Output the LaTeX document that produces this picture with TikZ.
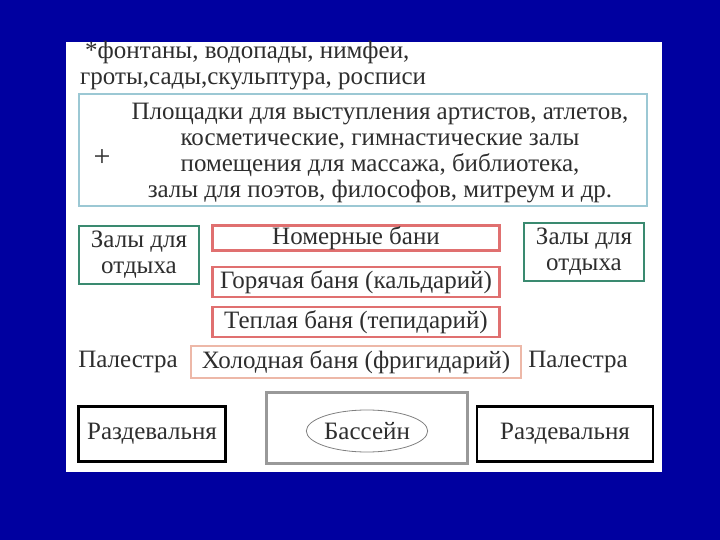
\documentclass[tikz,border=0pt]{standalone}
\usepackage{fontspec}
\setmainfont{Liberation Serif}
\usepackage{tikz}
\usepackage{xcolor}
\usetikzlibrary{shapes.geometric}
\definecolor{slideblue}{HTML}{0000A0}
\definecolor{infoblue}{HTML}{9CC8D4}
\definecolor{restgreen}{HTML}{3A8A70}
\definecolor{bathred}{HTML}{E07070}
\definecolor{coldpink}{HTML}{EDB8A8}
\definecolor{inkgray}{HTML}{2E2E2E}
\tikzset{
    plain-text/.style = {text=inkgray, font=\fontsize{25}{26}\selectfont, inner sep=0pt},
    info-box/.style = {draw=infoblue, line width=2.5pt, minimum width=568pt, minimum height=112pt},
    rest-box/.style = {draw=restgreen, line width=2.5pt, plain-text, align=center, minimum width=120pt, minimum height=58pt},
    bath-box/.style = {draw=bathred, line width=2.5pt, plain-text, minimum width=287pt, minimum height=30pt},
    cold-box/.style = {draw=coldpink, line width=2.5pt, plain-text, minimum width=330pt, minimum height=32pt},
    dress-box/.style = {draw=black, line width=2.5pt, plain-text, minimum width=150pt, minimum height=55pt},
    pool-frame/.style = {draw=gray!80, line width=2.5pt, minimum width=201pt, minimum height=71pt},
}

\begin{document}
\begin{tikzpicture}[x=1pt, y=-1pt]
\fill[slideblue] (0,0) rectangle (720,540);
\fill[white] (66,42) rectangle (662,472);
\useasboundingbox (0,0) rectangle (720,540);
\node[plain-text, align=left, anchor=west] (extras) at (80,66) {\hspace{5pt}*фонтаны, водопады, нимфеи,\\гроты,сады,скульптура, росписи};
\node[info-box] (info) at (363,150) {};
\node[plain-text, align=center] (infotext) at (380,153) {Площадки для выступления артистов, атлетов,\\косметические, гимнастические залы\\помещения для массажа, библиотека,\\залы для поэтов, философов, митреум и др.};
\node[plain-text, font=\fontsize{30}{30}\selectfont] (plus) at (102,158) {+};
\node[rest-box] (rest-left) at (139,255) {Залы для\\отдыха};
\node[rest-box] (rest-right) at (584,252) {Залы для\\отдыха};
\node[bath-box, minimum height=25pt] (rooms) at (356,238) {Номерные бани};
\node[bath-box] (caldarium) at (356,282) {Горячая баня (кальдарий)};
\node[bath-box] (tepidarium) at (356,322) {Теплая баня (тепидарий)};
\node[cold-box] (frigidarium) at (356,362) {Холодная баня (фригидарий)};
\node[plain-text] (palestra-left) at (128,362) {Палестра};
\node[plain-text] (palestra-right) at (578,362) {Палестра};
\node[dress-box, minimum width=147pt] (dress-left) at (152,434) {Раздевальня};
\node[pool-frame] (pool) at (367,428) {};
\node[draw=gray, thick, ellipse, plain-text, minimum width=101pt, minimum height=42pt] (basin) at (367,431) {Бассейн};
\node[dress-box, minimum width=176pt] (dress-right) at (565,434) {Раздевальня};
\end{tikzpicture}
\end{document}
